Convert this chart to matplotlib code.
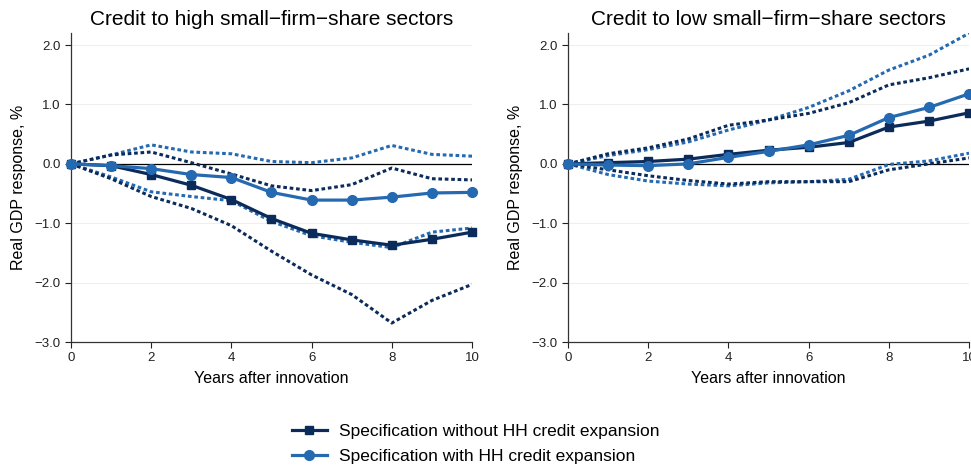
import matplotlib.pyplot as plt
import numpy as np

plt.rcParams['font.family'] = ['Liberation Sans', 'DejaVu Sans']

years = np.arange(0, 11)

# left panel: high small-firm-share sectors
hi_no_hh = [0, -0.03, -0.18, -0.36, -0.60, -0.92, -1.17, -1.28, -1.37, -1.27, -1.15]
hi_no_hh_up = [0, 0.15, 0.20, 0.02, -0.17, -0.37, -0.45, -0.35, -0.07, -0.25, -0.27]
hi_no_hh_lo = [0, -0.25, -0.55, -0.75, -1.04, -1.47, -1.87, -2.20, -2.68, -2.30, -2.03]
hi_hh = [0, -0.03, -0.08, -0.18, -0.23, -0.48, -0.61, -0.61, -0.56, -0.49, -0.48]
hi_hh_up = [0, 0.15, 0.32, 0.20, 0.17, 0.04, 0.02, 0.10, 0.31, 0.16, 0.13]
hi_hh_lo = [0, -0.22, -0.47, -0.55, -0.62, -0.97, -1.21, -1.32, -1.41, -1.15, -1.08]

# right panel: low small-firm-share sectors
lo_no_hh = [0, 0.02, 0.04, 0.08, 0.16, 0.23, 0.28, 0.36, 0.62, 0.72, 0.86]
lo_no_hh_up = [0, 0.17, 0.27, 0.42, 0.65, 0.74, 0.85, 1.03, 1.33, 1.45, 1.60]
lo_no_hh_lo = [0, -0.10, -0.20, -0.28, -0.34, -0.30, -0.30, -0.30, -0.10, 0.00, 0.10]
lo_hh = [0, -0.02, -0.03, 0.00, 0.11, 0.21, 0.32, 0.48, 0.78, 0.95, 1.18]
lo_hh_up = [0, 0.14, 0.24, 0.37, 0.57, 0.74, 0.95, 1.23, 1.58, 1.83, 2.20]
lo_hh_lo = [0, -0.18, -0.29, -0.34, -0.37, -0.32, -0.30, -0.26, -0.01, 0.05, 0.18]

titles = ["Credit to high small\u2212firm\u2212share sectors",
          "Credit to low small\u2212firm\u2212share sectors"]
labels = ["Specification without HH credit expansion",
          "Specification with HH credit expansion"]

dark = '#0b2b5a'
light = '#2569b1'

fig = plt.figure(figsize=(9.71, 4.70), dpi=100)
ax1 = fig.add_axes([0.0731, 0.2723, 0.413, 0.657])
ax2 = fig.add_axes([0.585, 0.2723, 0.413, 0.657])

panels = [
    (ax1, hi_no_hh, hi_no_hh_up, hi_no_hh_lo, hi_hh, hi_hh_up, hi_hh_lo),
    (ax2, lo_no_hh, lo_no_hh_up, lo_no_hh_lo, lo_hh, lo_hh_up, lo_hh_lo),
]

for i, (ax, a, a_up, a_lo, b, b_up, b_lo) in enumerate(panels):
    for y in [-2, -1, 1, 2]:
        ax.axhline(y, color='#efefef', lw=0.8, zorder=0)
    ax.axhline(0, color='black', lw=0.9, zorder=1)
    # confidence bands
    for band in (b_up, b_lo):
        ax.plot(years, band, color=light, lw=2.2, ls=(0, (1.2, 0.9)), zorder=2)
    for band in (a_up, a_lo):
        ax.plot(years, band, color=dark, lw=2.2, ls=(0, (1.2, 0.9)), zorder=2)
    ax.plot(years, a, color=dark, lw=2.3, marker='s', ms=6, zorder=3,
            label=labels[0], clip_on=False)
    ax.plot(years, b, color=light, lw=2.3, marker='o', ms=7, zorder=3,
            label=labels[1], clip_on=False)

    ax.set_xlim(0, 10)
    ax.set_ylim(-3.0, 2.2)
    ax.set_xticks(range(0, 11, 2))
    ax.set_yticks([-3, -2, -1, 0, 1, 2])
    ax.set_yticklabels([f"{v:.1f}".replace('-', '\u2212') for v in [-3, -2, -1, 0, 1, 2]])
    ax.tick_params(labelsize=9.5, length=4, width=0.8, colors='#222222')
    for s in ['top', 'right']:
        ax.spines[s].set_visible(False)
    for s in ['left', 'bottom']:
        ax.spines[s].set_color('#333333')
        ax.spines[s].set_linewidth(0.9)
    ax.set_title(titles[i], fontsize=15, pad=6)
    ax.set_xlabel("Years after innovation", fontsize=11.5, labelpad=5)
    ax.set_ylabel("Real GDP response, %", fontsize=11.5, labelpad=6)

handles, labs = ax1.get_legend_handles_labels()
fig.legend(handles, labs, loc='center', bbox_to_anchor=(0.49, 0.055), ncol=1,
           frameon=False, fontsize=12.5, handlelength=2.0, handletextpad=0.7,
           labelspacing=0.55)

fig.savefig('out.png', dpi=100)
